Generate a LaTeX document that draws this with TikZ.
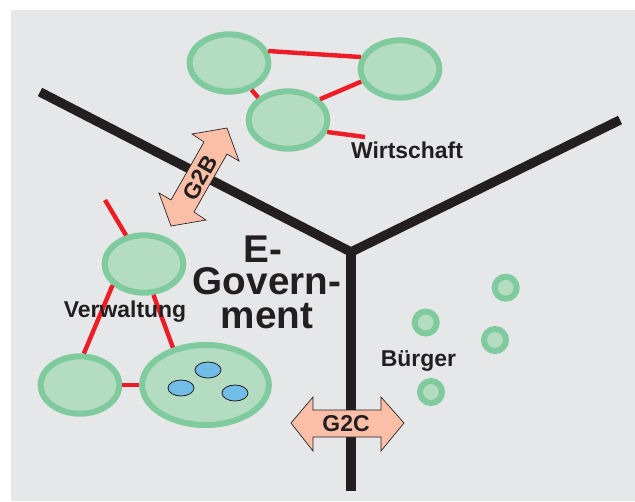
\documentclass[tikz,border=0pt]{standalone}
\usepackage{fontspec}
\setmainfont{Liberation Sans}
\usetikzlibrary{shapes.geometric}
\definecolor{bgG}{HTML}{E6E7E9}
\definecolor{grS}{HTML}{80CB9E}
\definecolor{grF}{HTML}{B3DCC0}
\definecolor{redL}{HTML}{EE1C25}
\definecolor{blk}{HTML}{231F20}
\definecolor{salm}{HTML}{FBBFA7}
\definecolor{blu}{HTML}{72BCE8}
\tikzset{
  org/.style={ellipse,draw=grS,fill=grF,line width=4.5pt,inner sep=0pt,minimum width=59pt,minimum height=43pt},
  bigorg/.style={org,minimum width=95pt,minimum height=60pt},
  person/.style={circle,draw=grS,fill=grF,line width=4.5pt,inner sep=0pt,minimum size=16.5pt},
  unit/.style={ellipse,draw=blk,fill=blu,line width=0.6pt,inner sep=0pt,minimum width=19.5pt,minimum height=12pt},
  link/.style={draw=redL,line width=3.3pt},
  axis/.style={draw=blk,line width=7pt},
  blockarrow/.style={draw=blk,fill=salm,line width=0.5pt,line join=miter},
  lbl/.style={text=blk,font=\fontsize{17.2}{20}\selectfont\bfseries,inner sep=0pt},
  bigtitle/.style={text=blk,font=\fontsize{29}{25.5}\selectfont\bfseries,inner sep=0pt,align=center}
}
\begin{document}
\begin{tikzpicture}[x=0.75pt,y=-0.75pt]
\useasboundingbox (0,0) rectangle (635,501);
\fill[white] (0,0) rectangle (635,501);
\fill[bgG] (11,10) rectangle (635,501);
% axes
\coordinate (hub) at (351,252);
\coordinate (axA) at (40,92);
\coordinate (axB) at (620,120);
\coordinate (axC) at (351,491);
\path[axis,line join=miter] (axA) -- (hub) -- (axB);
\path[axis] (hub) -- (axC);
% organisations
\node[org] (tl) at (229,63) {};
\node[org] (tr) at (400,69) {};
\node[org] (mid) at (288,120) {};
\node[org] (vt) at (144,264) {};
\node[org] (vl) at (80,385) {};
\node[bigorg] (vb) at (205.5,385) {};
\node[unit] (u1) at (208,370) {};
\node[unit] (u2) at (181,388) {};
\node[unit] (u3) at (235,393) {};
% links
\coordinate (freeW) at (365,137);
\coordinate (freeV) at (105,200);
\draw[link] (tl.17) -- (tr.163);
\draw[link] (tr.198) -- (mid.33);
\draw[link] (tl.-50) -- (mid.143);
\draw[link] (mid.-17) -- (freeW);
\draw[link] (vt.122) -- (freeV);
\draw[link] (vt.-146) -- (vl.83);
\draw[link] (vt.-73) -- (vb.131);
\draw[link] (vl.east) -- (vb.west);
% citizens
\node[person] (p1) at (425.7,322.5) {};
\node[person] (p2) at (505.7,287.7) {};
\node[person] (p3) at (495,340) {};
\node[person] (p4) at (431,392) {};
% block arrows
\path[blockarrow] (192,134) -- (227,128) -- (239,161) -- (227,154) -- (194,212) -- (206,220) -- (171,226) -- (159,193) -- (171,200) -- (204,142) -- cycle;
\path[blockarrow] (291,423) -- (313,397) -- (313,410) -- (381,410) -- (381,397) -- (404,423) -- (381,451) -- (381,437) -- (313,437) -- (313,451) -- cycle;
% labels
\node[lbl,rotate=60] (g2b) at (200,178) {G2B};
\node[lbl] (g2c) at (346,423.5) {G2C};
\node[lbl] (wi) at (407,150) {Wirtschaft};
\node[lbl] (ve) at (125,312) {Verwaltung};
\node[lbl] (bu) at (418.5,361) {Bürger};
\node[bigtitle] (eg) at (267,282.5) {\mbox{E-\kern0.2em}\\[-1.5pt]Govern-\\ment};
\end{tikzpicture}
\end{document}
